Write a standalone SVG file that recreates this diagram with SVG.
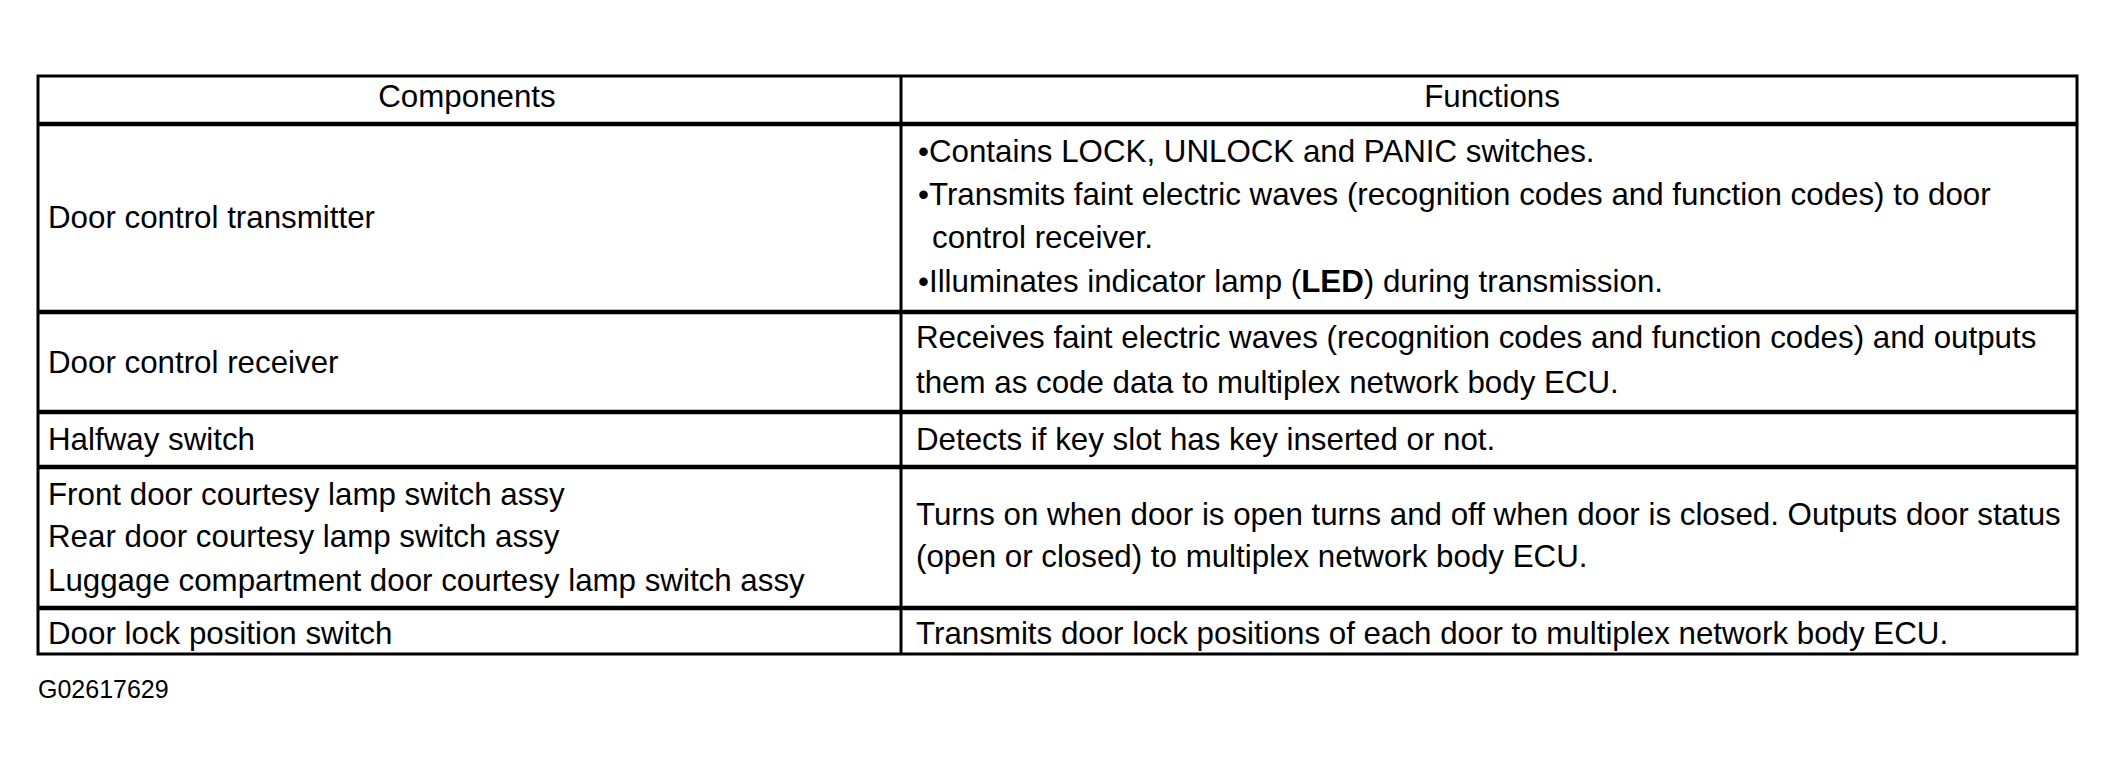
<svg xmlns="http://www.w3.org/2000/svg" width="2116" height="775" viewBox="0 0 2116 775">
<style>
  text { font-family: "Liberation Sans", Arial, Helvetica, sans-serif; font-size: 31.3px; fill: #000; }
  .c { text-anchor: middle; }
  .frame { fill: none; stroke: #000; stroke-width: 3; }
  .sep { stroke: #000; stroke-width: 4.5; }
  .vsep { stroke: #000; stroke-width: 3; }
  .code { font-size: 25px; }
</style>
<rect width="2116" height="775" fill="#fff"/>
<g id="grid">
  <rect class="frame" x="38" y="76" width="2039" height="578"/>
  <line class="vsep" x1="901" y1="76" x2="901" y2="654"/>
  <line class="sep" x1="38" y1="124" x2="2077" y2="124"/>
  <line class="sep" x1="38" y1="312" x2="2077" y2="312"/>
  <line class="sep" x1="38" y1="412" x2="2077" y2="412"/>
  <line class="sep" x1="38" y1="467" x2="2077" y2="467"/>
  <line class="sep" x1="38" y1="608" x2="2077" y2="608"/>
</g>
<g id="header">
  <text class="c" x="467" y="107">Components</text>
  <text class="c" x="1492" y="107">Functions</text>
</g>
<g id="row-transmitter">
  <text x="48" y="228">Door control transmitter</text>
  <text x="918" y="162">•Contains LOCK, UNLOCK and PANIC switches.</text>
  <text x="918" y="205">•Transmits faint electric waves (recognition codes and function codes) to door</text>
  <text x="932" y="248">control receiver.</text>
  <text x="918" y="292">•Illuminates indicator lamp (<tspan font-weight="bold">LED</tspan>) during transmission.</text>
</g>
<g id="row-receiver">
  <text x="48" y="373">Door control receiver</text>
  <text x="916" y="348">Receives faint electric waves (recognition codes and function codes) and outputs</text>
  <text x="916" y="393">them as code data to multiplex network body ECU.</text>
</g>
<g id="row-halfway">
  <text x="48" y="450">Halfway switch</text>
  <text x="916" y="450">Detects if key slot has key inserted or not.</text>
</g>
<g id="row-courtesy">
  <text x="48" y="505">Front door courtesy lamp switch assy</text>
  <text x="48" y="547">Rear door courtesy lamp switch assy</text>
  <text x="48" y="591">Luggage compartment door courtesy lamp switch assy</text>
  <text x="916" y="525">Turns on when door is open turns and off when door is closed. Outputs door status</text>
  <text x="916" y="567">(open or closed) to multiplex network body ECU.</text>
</g>
<g id="row-doorlock">
  <text x="48" y="644">Door lock position switch</text>
  <text x="916" y="644">Transmits door lock positions of each door to multiplex network body ECU.</text>
</g>
<g id="caption">
  <text class="code" x="38" y="698">G02617629</text>
</g>
</svg>
